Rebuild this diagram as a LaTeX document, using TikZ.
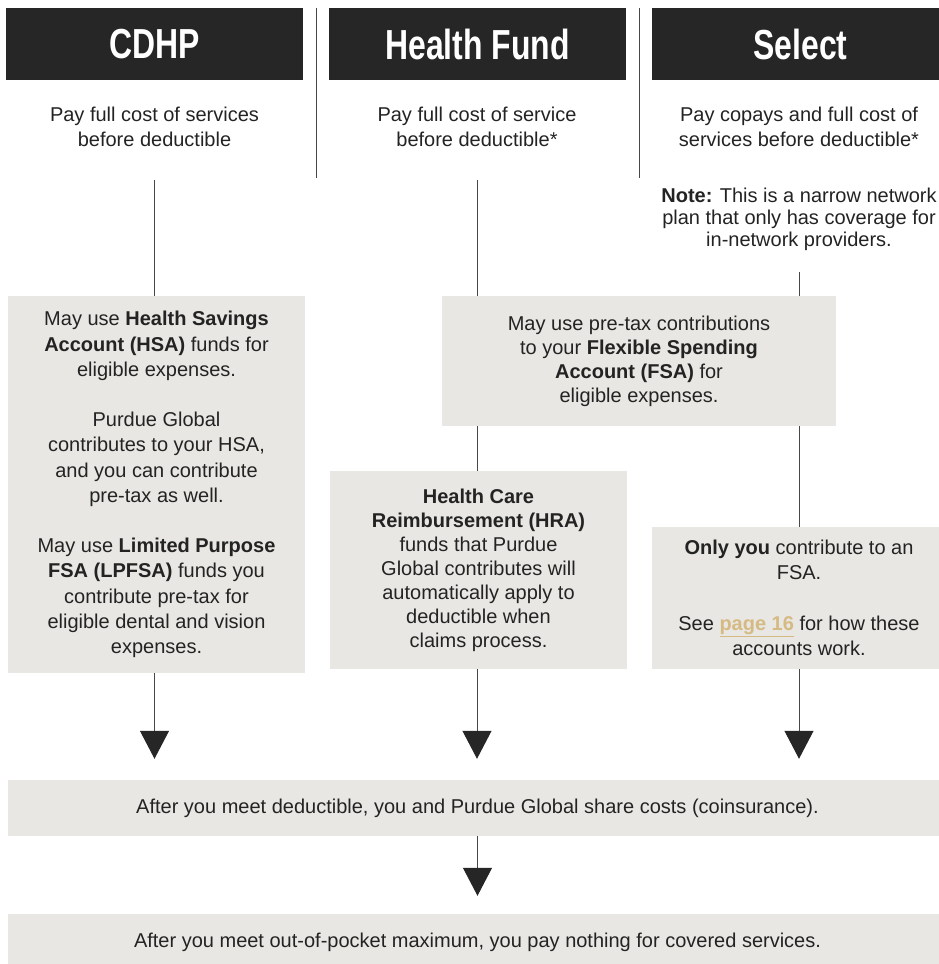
\documentclass[tikz,border=0pt]{standalone}
\usepackage{fontspec}
\setmainfont{Liberation Sans}
\newfontfamily\headfont[FakeStretch=0.76]{Liberation Sans}
\usetikzlibrary{arrows.meta}

\definecolor{barbg}{HTML}{262626}
\definecolor{boxbg}{HTML}{E8E7E3}
\definecolor{ink}{HTML}{232323}
\definecolor{rule}{HTML}{484848}
\definecolor{gold}{HTML}{D6BA84}

\begin{document}
\begin{tikzpicture}[x=1pt,y=-1pt,
  bar/.style={fill=barbg,text=white,minimum width=297pt,minimum height=72pt,inner sep=0pt,
    font=\headfont\bfseries\fontsize{42}{42}\selectfont},
  txt/.style={align=center,text=ink,inner sep=0pt,font=\fontsize{20}{25.2}\selectfont},
  shade/.style={txt,fill=boxbg},
  link/.style={draw=rule,line width=1pt},
  flow/.style={link,-{Triangle[width=29pt,length=28pt,color=barbg]},shorten >=21pt}]
  \useasboundingbox (0,0) rectangle (939,964);
  \clip (0,0) rectangle (939,964);

  % plan headers
  \node[bar] (hA) at (154.5,44) {CDHP};
  \node[bar] (hB) at (477.5,44) {Health Fund};
  \node[bar] (hC) at (800.5,44) {Select};
  \draw[link] (316,8) -- (316,178);
  \draw[link] (639,8) -- (639,178);

  \node[txt] (sA) at (154.5,127) {Pay full cost of services\\before deductible};
  \node[txt] (sB) at (477,127) {Pay full cost of service\\before deductible*};
  \node[txt] (sC) at (799,127) {Pay copays and full cost of\\services before deductible*};
  \node[txt,font=\fontsize{20}{22}\selectfont] (note) at (799,219) {
    \textbf{Note:} This is a narrow network\\
    plan that only has coverage for\\
    in-network providers.};

  \coordinate (tA) at (154.5,180);
  \coordinate (tB) at (477,180);
  \coordinate (tC) at (799,272);

  % accounts
  \node[shade,minimum width=297pt,minimum height=377pt] (bA) at (156.5,484.5) {
    May use \textbf{Health Savings}\\
    \textbf{Account (HSA)} funds for\\
    eligible expenses.\\[25.2pt]
    Purdue Global\\
    contributes to your HSA,\\
    and you can contribute\\
    pre-tax as well.\\[25.2pt]
    May use \textbf{Limited Purpose}\\
    \textbf{FSA (LPFSA)} funds you\\
    contribute pre-tax for\\
    eligible dental and vision\\
    expenses.};
  \node[shade,font=\fontsize{20}{24}\selectfont,minimum width=394pt,minimum height=130pt] (bF) at (639,361) {
    May use pre-tax contributions\\
    to your \textbf{Flexible Spending}\\
    \textbf{Account (FSA)} for\\
    eligible expenses.};
  \node[shade,font=\fontsize{20}{24}\selectfont,minimum width=297pt,minimum height=198pt] (bH) at (478.5,570) {
    \textbf{Health Care}\\
    \textbf{Reimbursement (HRA)}\\
    funds that Purdue\\
    Global contributes will\\
    automatically apply to\\
    deductible when\\
    claims process.};
  \node[shade,minimum width=294pt,minimum height=142pt] (bS) at (799,598) {
    \textbf{Only you} contribute to an\\
    FSA.\\[25.2pt]
    See \textbf{\color{gold}\underline{page 16}} for how these\\
    accounts work.};

  % shared steps
  \node[shade,minimum width=939pt,minimum height=56pt] (bCost) at (477.5,808)
    {After you meet deductible, you and Purdue Global share costs (coinsurance).};
  \node[shade,minimum width=939pt,minimum height=56pt] (bMax) at (477.5,942)
    {After you meet out-of-pocket maximum, you pay nothing for covered services.};

  \draw[link] (tA) -- (tA |- bA.north);
  \draw[link] (tB) -- (tB |- bF.north);
  \draw[link] (tC) -- (tC |- bF.north);
  \draw[link] (tB |- bF.south) -- (tB |- bH.north);
  \draw[link] (tC |- bF.south) -- (tC |- bS.north);
  \draw[flow] (tA |- bA.south) -- (tA |- bCost.north);
  \draw[flow] (tB |- bH.south) -- (tB |- bCost.north);
  \draw[flow] (tC |- bS.south) -- (tC |- bCost.north);
  \draw[flow,shorten >=18pt] (bCost) -- (bMax);
\end{tikzpicture}
\end{document}
